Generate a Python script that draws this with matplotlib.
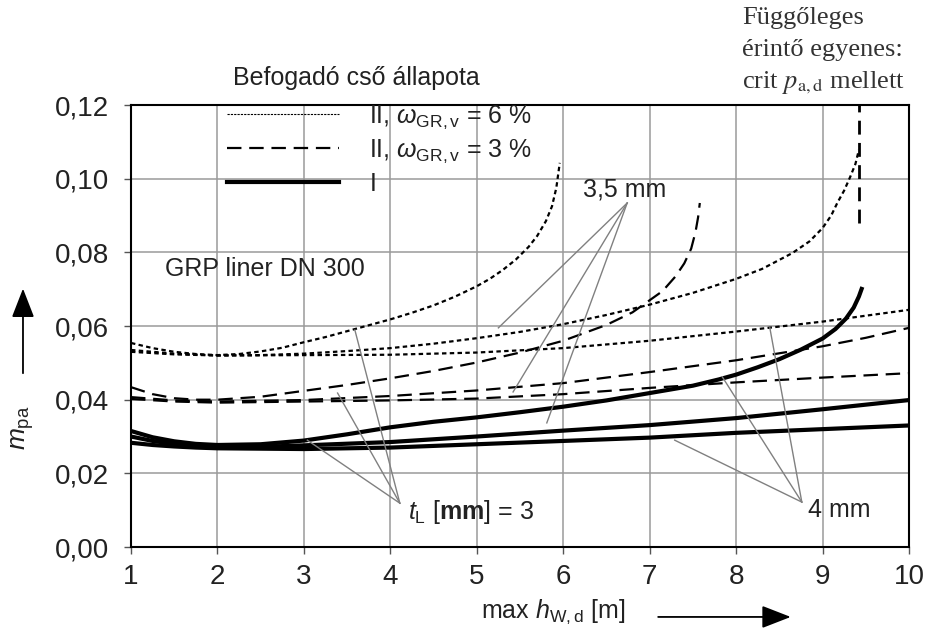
import numpy as np
import matplotlib
matplotlib.use("Agg")
import matplotlib.pyplot as plt
from matplotlib.lines import Line2D
from matplotlib.patches import FancyArrowPatch
from matplotlib.ticker import FuncFormatter

plt.rcParams["font.family"] = ["Liberation Sans", "DejaVu Sans"]
plt.rcParams["mathtext.fontset"] = "custom"
plt.rcParams["mathtext.rm"] = "Liberation Sans"
plt.rcParams["mathtext.it"] = "Liberation Sans:italic"
plt.rcParams["mathtext.bf"] = "Liberation Sans:bold"
plt.rcParams["text.color"] = "#222222"
plt.rcParams["xtick.labelcolor"] = "#222222"
plt.rcParams["ytick.labelcolor"] = "#222222"

# --- data: m_pa over max h_W,d ---
# state II, omega = 6 % (dotted)
x_dot_3 = [1, 1.25, 1.5, 1.75, 2, 2.25, 2.5, 2.75, 3, 3.25, 3.5, 3.75, 4, 4.25, 4.5,
           4.75, 5, 5.15, 5.3, 5.45, 5.6, 5.7, 5.8, 5.87, 5.92, 5.96]
y_dot_3 = [0.0554, 0.0540, 0.0530, 0.0524, 0.0521, 0.0524, 0.0531, 0.0541, 0.0556,
           0.0570, 0.0586, 0.0602, 0.0618, 0.0636, 0.0656, 0.0680, 0.0708, 0.0728,
           0.0752, 0.0780, 0.0815, 0.0845, 0.0885, 0.0925, 0.0975, 0.1043]
x_dot_35 = [1, 1.5, 2, 2.5, 3, 3.5, 4, 4.5, 5, 5.5, 6, 6.5, 7, 7.5, 8, 8.3, 8.65,
            8.85, 9.0, 9.1, 9.17, 9.25, 9.32, 9.38, 9.42]
y_dot_35 = [0.0535, 0.0525, 0.0520, 0.0521, 0.0525, 0.0532, 0.0540, 0.0552, 0.0567,
            0.0584, 0.0605, 0.0630, 0.0658, 0.0690, 0.0728, 0.0755, 0.0798, 0.0830,
            0.0866, 0.0900, 0.0934, 0.0968, 0.1005, 0.1040, 0.1078]
x_dot_4 = [1, 1.5, 2, 3, 4, 5, 6, 7, 8, 9, 10]
y_dot_4 = [0.0530, 0.0523, 0.0520, 0.0521, 0.0522, 0.0528, 0.0540, 0.0560, 0.0585,
           0.0612, 0.0644]

# state II, omega = 3 % (dashed)
x_dash_3 = [1, 1.25, 1.5, 1.75, 2, 2.5, 3, 3.5, 4, 4.5, 5, 5.5, 6, 6.5, 6.8, 7.0,
            7.15, 7.3, 7.4, 7.48, 7.53, 7.56, 7.58]
y_dash_3 = [0.0434, 0.0415, 0.0404, 0.0400, 0.0400, 0.0408, 0.0424, 0.0440, 0.0458,
            0.0478, 0.0501, 0.0528, 0.0560, 0.0603, 0.0637, 0.0670, 0.0695, 0.0735,
            0.0770, 0.0810, 0.0855, 0.0895, 0.0934]
x_dash_35 = [1, 1.5, 2, 3, 4, 5, 6, 7, 8, 9, 9.5, 10]
y_dash_35 = [0.0407, 0.0398, 0.0395, 0.0399, 0.0410, 0.0425, 0.0445, 0.0475, 0.0507,
             0.0545, 0.0568, 0.0595]
x_dash_4 = [1, 1.5, 2, 3, 4, 5, 6, 7, 8, 9, 10]
y_dash_4 = [0.0402, 0.0395, 0.0392, 0.0395, 0.0398, 0.0403, 0.0415, 0.0432, 0.0447,
            0.0460, 0.0472]

# state I (solid)
x_sol_3 = [1, 1.25, 1.5, 1.75, 2, 2.5, 3, 3.5, 4, 4.5, 5, 5.5, 6, 6.5, 7, 7.5, 7.8,
           8.0, 8.25, 8.5, 8.75, 9.0, 9.15, 9.27, 9.36, 9.42, 9.46]
y_sol_3 = [0.0315, 0.0298, 0.0287, 0.0280, 0.0277, 0.0279, 0.0289, 0.0306, 0.0325,
           0.0340, 0.0352, 0.0366, 0.0381, 0.0398, 0.0418, 0.0438, 0.0455, 0.0468,
           0.0488, 0.0510, 0.0536, 0.0566, 0.0592, 0.0620, 0.0650, 0.0680, 0.0706]
x_sol_35 = [1, 1.25, 1.5, 1.75, 2, 2.5, 3, 4, 5, 6, 7, 8, 9, 10]
y_sol_35 = [0.0300, 0.0288, 0.0280, 0.0275, 0.0272, 0.0272, 0.0276, 0.0285, 0.0300,
            0.0316, 0.0331, 0.0350, 0.0374, 0.0399]
x_sol_4 = [1, 1.25, 1.5, 1.75, 2, 3, 4, 5, 6, 7, 8, 9, 10]
y_sol_4 = [0.0283, 0.0277, 0.0273, 0.0270, 0.0268, 0.0266, 0.0270, 0.0279, 0.0288,
           0.0297, 0.0310, 0.0320, 0.0330]

# vertical tangent at crit p_a,d
x_tangent = 9.42
y_tangent = [0.088, 0.12]

# leader lines: hub and curve points for the three labels
lead_35_hub = (6.74, 0.0934)
lead_35_pts = [(5.25, 0.0595), (5.42, 0.0421), (5.81, 0.0337)]
lead_3_hub = (4.11, 0.0119)
lead_3_pts = [(3.59, 0.0589), (3.39, 0.0418), (3.04, 0.0290)]
lead_4_hub = (8.76, 0.0122)
lead_4_pts = [(8.39, 0.0595), (7.84, 0.0462), (7.29, 0.0290)]

x_ticks = list(range(1, 11))
y_ticks = [0.00, 0.02, 0.04, 0.06, 0.08, 0.10, 0.12]

DOT = dict(color="black", lw=1.6, ls=(0, (2.0, 1.5)))
DASH = dict(color="black", lw=1.6, ls=(0, (6.5, 3.5)))
SOLID = dict(color="black", lw=3.0, ls="-", solid_capstyle="butt")

fig = plt.figure(figsize=(9.27, 6.38), dpi=100)
ax = fig.add_axes([0.1413, 0.1426, 0.8393, 0.6928])

for xs, ys in [(x_dot_3, y_dot_3), (x_dot_35, y_dot_35), (x_dot_4, y_dot_4)]:
    ax.plot(xs, ys, **DOT)
for xs, ys in [(x_dash_3, y_dash_3), (x_dash_35, y_dash_35), (x_dash_4, y_dash_4)]:
    ax.plot(xs, ys, **DASH)
for xs, ys in [(x_sol_3, y_sol_3), (x_sol_35, y_sol_35), (x_sol_4, y_sol_4)]:
    ax.plot(xs, ys, **SOLID)

ax.plot([x_tangent, x_tangent], y_tangent, color="black", lw=2.0, ls=(0, (5, 3)))

lead_col = "#808080"
for hub, pts in [(lead_35_hub, lead_35_pts), (lead_3_hub, lead_3_pts),
                 (lead_4_hub, lead_4_pts)]:
    for px, py in pts:
        ax.plot([hub[0], px], [hub[1], py], color=lead_col, lw=1.0)

ax.text(6.23, 0.097, "3,5 mm", fontsize=18, va="center", ha="left")
ax.text(4.2, 0.0095, r"$t_{\mathrm{L}}$ [$\mathbf{mm}$] = 3", fontsize=18,
        va="center", ha="left")
ax.text(8.83, 0.010, "4 mm", fontsize=18, va="center", ha="left")
ax.text(1.39, 0.0755, "GRP liner DN 300", fontsize=18, va="center", ha="left")

ax.set_xlim(1, 10)
ax.set_ylim(0, 0.12)
ax.set_xticks(x_ticks)
ax.set_yticks(y_ticks)
ax.yaxis.set_major_formatter(FuncFormatter(lambda v, p: ("%.2f" % v).replace(".", ",")))
ax.tick_params(labelsize=20, direction="out", length=5, width=1, color="#555555")
ax.tick_params(axis="y", pad=11)
ax.tick_params(axis="x", pad=7)
ax.grid(True, color="#9a9a9a", lw=1.1)
ax.set_axisbelow(True)
for s in ax.spines.values():
    s.set_linewidth(1.5)
    s.set_color("black")

handles = [
    Line2D([], [], color="black", lw=0.8, ls=(0, (2.0, 1.0))),
    Line2D([], [], color="black", lw=1.6, ls=(0, (6.5, 3.5))),
    Line2D([], [], color="black", lw=3.0),
]
labels = [r"II, $\omega_{\mathrm{GR,v}}$ = 6 %", r"II, $\omega_{\mathrm{GR,v}}$ = 3 %", "I"]
ax.legend(handles, labels, loc="upper left", bbox_to_anchor=(0.1234, 1.004),
          frameon=False, fontsize=18, handlelength=4.5, handletextpad=1.2,
          labelspacing=0.28, borderpad=0, borderaxespad=0)

fig.text(0.2513, 0.8777, "Befogadó cső állapota", fontsize=18, va="center", ha="left")

# serif note top right
fig.text(0.8005, 0.972, "Függőleges", fontsize=19, family="Liberation Serif",
         va="center", ha="left", color="#333333")
fig.text(0.8005, 0.922, "érintő egyenes:", fontsize=19, family="Liberation Serif",
         va="center", ha="left", color="#333333")
fig.text(0.8005, 0.871, r"crit $p_{\mathrm{a,d}}$ mellett", fontsize=19,
         family="Liberation Serif", math_fontfamily="stix", va="center", ha="left",
         color="#333333")

# axis labels with arrows
fig.text(0.0248, 0.329, r"$m_{\mathrm{pa}}$", fontsize=19, rotation=90,
         va="center", ha="center")
fig.add_artist(FancyArrowPatch(
    (0.0248, 0.4107), (0.0248, 0.552), transform=fig.transFigure,
    arrowstyle="-|>,head_length=0.9,head_width=0.35", mutation_scale=20,
    color="black", lw=1.3))
fig.text(0.597, 0.041, r"max $h_{\mathrm{W,d}}$ [m]", fontsize=18,
         va="center", ha="center")
fig.add_artist(FancyArrowPatch(
    (0.707, 0.033), (0.856, 0.033), transform=fig.transFigure,
    arrowstyle="-|>,head_length=0.9,head_width=0.35", mutation_scale=20,
    color="black", lw=1.3))

fig.savefig("out.png", dpi=100)
